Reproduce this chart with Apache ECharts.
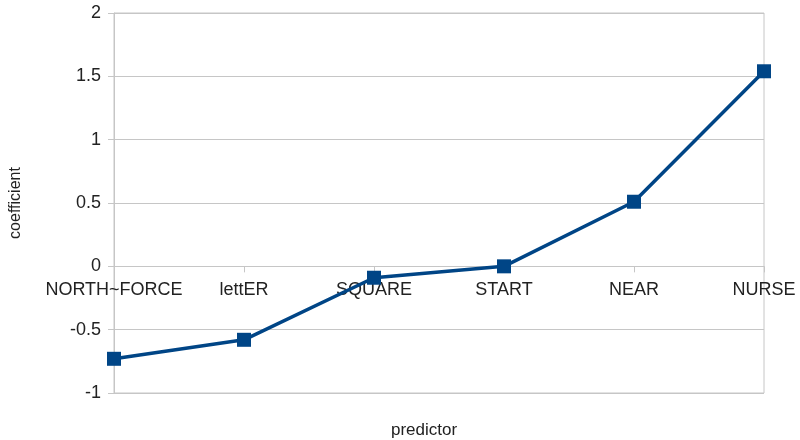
<!DOCTYPE html>
<html>
<head>
<meta charset="utf-8">
<script src="https://cdn.jsdelivr.net/npm/echarts@6/dist/echarts.min.js"></script>
<style>
  html, body { margin: 0; padding: 0; background: #fff; }
  #chart { width: 800px; height: 440px; }
</style>
</head>
<body>
<div id="chart"></div>
<script>
const predictors = ['NORTH~FORCE', 'lettER', 'SQUARE', 'START', 'NEAR', 'NURSE']
const coefficients = [-0.73, -0.58, -0.09, 0.0, 0.51, 1.54]

const gridGray = '#c6c6c6'
const textColor = '#222'
const font = 'Liberation Sans, Arial, sans-serif'

const gridTop = 13
const gridBottom = 47
const plotHeight = 440 - gridTop - gridBottom
// x axis sits on the zero line (value range -1..2)
const zeroOffset = -plotHeight * (1 / 3)

const chart = echarts.init(document.getElementById('chart'))

chart.setOption({
  animation: false,
  title: {
    text: 'predictor',
    left: 386,
    top: 417,
    textStyle: { fontSize: 17, fontWeight: 'normal', color: textColor, fontFamily: font }
  },
  grid: {
    left: 112,
    right: 36,
    top: gridTop,
    bottom: gridBottom,
    show: true,
    borderColor: gridGray,
    borderWidth: 1
  },
  xAxis: {
    type: 'category',
    data: predictors,
    boundaryGap: false,
    offset: zeroOffset,
    axisLine: { onZero: false, lineStyle: { color: gridGray, width: 1 } },
    axisTick: { show: true, length: 6, lineStyle: { color: gridGray } },
    axisLabel: { color: textColor, fontSize: 18, fontFamily: font, margin: 15, interval: 0 },
    splitLine: { show: false }
  },
  yAxis: {
    type: 'value',
    min: -1,
    max: 2,
    interval: 0.5,
    name: 'coefficient',
    nameLocation: 'middle',
    nameGap: 90,
    nameTextStyle: { color: textColor, fontSize: 16, fontFamily: font },
    axisLine: { show: true, lineStyle: { color: gridGray, width: 1 } },
    axisTick: { show: true, length: 6, lineStyle: { color: gridGray } },
    axisLabel: { color: textColor, fontSize: 18, fontFamily: font, margin: 13 },
    splitLine: { show: true, lineStyle: { color: gridGray, width: 1 } }
  },
  series: [{
    type: 'line',
    data: coefficients,
    symbol: 'rect',
    symbolSize: 14,
    lineStyle: { color: '#004586', width: 3.5 },
    itemStyle: { color: '#004586' }
  }]
})
</script>
</body>
</html>
